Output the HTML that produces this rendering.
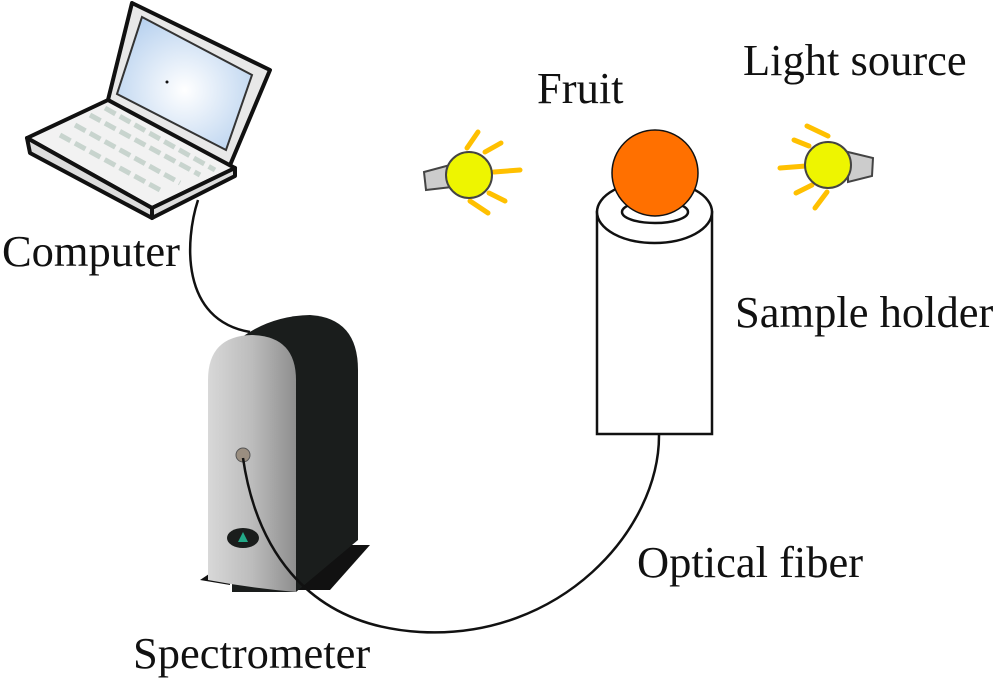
<!DOCTYPE html>
<html><head><meta charset="utf-8"><style>
html,body{margin:0;padding:0;background:#fff}
svg{display:block}
text{font-family:"Liberation Serif",serif;font-size:44.5px;fill:#111}
</style></head><body>
<svg width="1000" height="683" viewBox="0 0 1000 683" xmlns="http://www.w3.org/2000/svg">
<defs>
<radialGradient id="scr" cx="0.5" cy="0.55" r="0.6"><stop offset="0" stop-color="#fff"/><stop offset="1" stop-color="#b9d2ef"/></radialGradient>
<linearGradient id="silver" x1="0" x2="1"><stop offset="0" stop-color="#d8d8d8"/><stop offset="0.5" stop-color="#bcbcbc"/><stop offset="1" stop-color="#8e8e8e"/></linearGradient>
</defs>
<!-- laptop -->
<polygon points="132,3 270,70 228,170 108,100" fill="#e8e8e8" stroke="#111" stroke-width="4" stroke-linejoin="round"/>
<polygon points="142,17 252,75 226,150 117,94" fill="url(#scr)" stroke="#333" stroke-width="2"/>
<circle cx="167" cy="82" r="1.5" fill="#111"/>
<polygon points="27,138 108,100 235,168 152,208" fill="#f2f2f2" stroke="#111" stroke-width="4" stroke-linejoin="round"/>
<polygon points="27,138 152,208 152,218 30,153" fill="#ddd" stroke="#111" stroke-width="4" stroke-linejoin="round"/>
<polygon points="152,208 235,168 235,176 152,218" fill="#ddd" stroke="#111" stroke-width="4" stroke-linejoin="round"/>
<g stroke="#c8d4ce" stroke-width="5" stroke-dasharray="12 5">
<line x1="60" y1="135" x2="160" y2="190"/><line x1="75" y1="125" x2="180" y2="183"/>
<line x1="90" y1="115" x2="200" y2="175"/><line x1="105" y1="108" x2="215" y2="170"/>
</g>
<!-- computer cable -->
<path d="M198,200 C185,240 180,320 250,332" fill="none" stroke="#111" stroke-width="2.5"/>
<!-- spectrometer -->
<polygon points="200,580 230,560 230,585" fill="#111"/>
<polygon points="290,590 335,545 370,545 330,590" fill="#111"/>
<path d="M232,345 Q265,316 310,315 Q358,318 358,370 L358,540 L296,592 L232,592 Z" fill="#1a1d1c"/>
<path d="M208,380 Q208,336 252,335 Q296,336 296,380 L296,592 Q250,588 208,580 Z" fill="url(#silver)"/>
<circle cx="243" cy="455" r="7" fill="#9a8e80" stroke="#555"/>
<ellipse cx="243" cy="538" rx="16" ry="10" fill="#1a1d1c"/>
<path d="M243,532 l-5,10 h10 z" fill="#2a8"/>
<!-- fiber -->
<path d="M243,458 C255,540 300,625 420,632 C560,640 660,530 659,434" fill="none" stroke="#111" stroke-width="2.5"/>
<!-- sample holder -->
<rect x="597" y="212" width="115" height="222" fill="#fff" stroke="#111" stroke-width="2.5"/>
<ellipse cx="654.5" cy="212" rx="57.5" ry="31" fill="#fff" stroke="#111" stroke-width="2.5"/>
<ellipse cx="655" cy="212" rx="33" ry="11" fill="#fff" stroke="#111" stroke-width="2.5"/>
<circle cx="655" cy="173" r="43" fill="#ff7000" stroke="#111" stroke-width="1.5"/>
<!-- left light -->
<g stroke="#ffc000" stroke-width="5" stroke-linecap="round">
<line x1="467" y1="148" x2="478" y2="132"/><line x1="485" y1="152" x2="501" y2="143"/>
<line x1="494" y1="172" x2="520" y2="170"/><line x1="489" y1="193" x2="505" y2="201"/>
<line x1="470" y1="201" x2="488" y2="213"/>
</g>
<polygon points="424,172 450,165 452,187 426,190" fill="#ccc" stroke="#444" stroke-width="2"/>
<circle cx="469" cy="175" r="23" fill="#eef500" stroke="#444" stroke-width="2"/>
<!-- right light -->
<g stroke="#ffc000" stroke-width="5" stroke-linecap="round">
<line x1="807" y1="126" x2="828" y2="136"/><line x1="794" y1="140" x2="809" y2="146"/>
<line x1="780" y1="168" x2="806" y2="166"/><line x1="796" y1="193" x2="812" y2="185"/>
<line x1="815" y1="208" x2="827" y2="192"/>
</g>
<polygon points="848,152 873,158 872,176 848,182" fill="#ccc" stroke="#444" stroke-width="2"/>
<circle cx="828" cy="165" r="23" fill="#eef500" stroke="#444" stroke-width="2"/>
<!-- labels -->
<text x="743" y="75">Light source</text>
<text x="537" y="103">Fruit</text>
<text x="2" y="266">Computer</text>
<text x="735" y="327">Sample holder</text>
<text x="637" y="577">Optical fiber</text>
<text x="133" y="668">Spectrometer</text>
</svg>
</body></html>
